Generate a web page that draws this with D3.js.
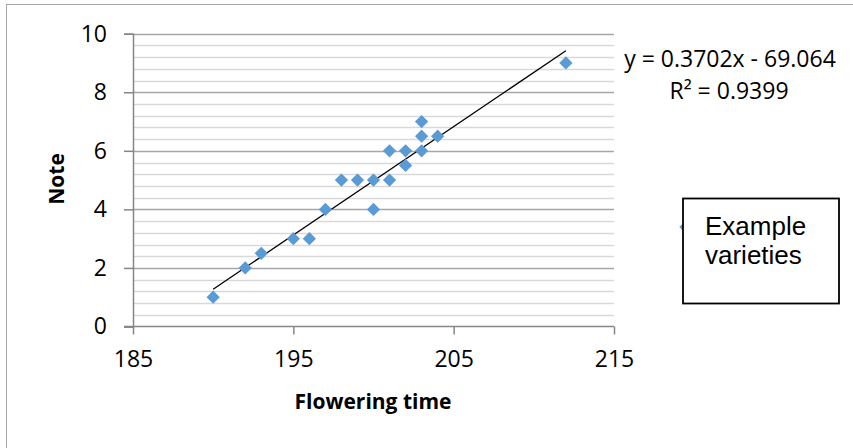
<!DOCTYPE html>
<html>
<head>
<meta charset="utf-8">
<script src="https://cdn.jsdelivr.net/npm/d3@7"></script>
<style>
  body { margin: 0; background: #fff; }
  svg { display: block; }
</style>
</head>
<body>
<svg id="chart" width="853" height="448"></svg>
<script>
// values
var floweringTime = [190, 192, 193, 195, 196, 197, 198, 199, 200, 200, 201, 201, 202, 202, 203, 203, 203, 204, 212];
var note          = [1,   2,   2.5, 3,   3,   4,   5,   5,   5,   4,   6,   5,   6,   5.5, 7,   6.5, 6,   6.5, 9];

var xTicks = [185, 195, 205, 215];
var yTicks = [0, 2, 4, 6, 8, 10];
var yMinorTicks = d3.range(0, 10.01, 0.4);

// trendline as printed on the chart
var slope = 0.3702, intercept = -69.064;
var eqLabel = "y = 0.3702x - 69.064";
var r2Label = "R\u00b2 = 0.9399";
var seriesName = ["Example", "varieties"];

var svg = d3.select("#chart");
var font = "'Open Sans', 'Noto Sans', sans-serif";

var x = d3.scaleLinear().domain([185, 215]).range([133, 614]);
var y = d3.scaleLinear().domain([0, 10]).range([326.5, 33.7]);

// chart border (only top/left are visible in the crop)
svg.append("rect")
  .attr("x", 6.5).attr("y", 4.5)
  .attr("width", 900).attr("height", 500)
  .attr("fill", "none")
  .attr("stroke", "#a6a6a6")
  .attr("stroke-width", 1);

// minor gridlines
svg.append("g")
  .selectAll("line")
  .data(yMinorTicks.filter(function(d) { return Math.abs(d / 2 - Math.round(d / 2)) > 0.01; }))
  .enter().append("line")
  .attr("x1", x(185)).attr("x2", x(215))
  .attr("y1", function(d) { return Math.round(y(d)) + 0.5; })
  .attr("y2", function(d) { return Math.round(y(d)) + 0.5; })
  .attr("stroke", "#d9d9d9")
  .attr("stroke-width", 1.5);

// major gridlines
svg.append("g")
  .selectAll("line")
  .data(yTicks.slice(1))
  .enter().append("line")
  .attr("x1", x(185)).attr("x2", x(215))
  .attr("y1", function(d) { return Math.round(y(d)) + 0.5; })
  .attr("y2", function(d) { return Math.round(y(d)) + 0.5; })
  .attr("stroke", "#a6a6a6")
  .attr("stroke-width", 1.5);

// y axis
var yAxis = svg.append("g")
  .attr("transform", "translate(" + x(185) + ",0)")
  .call(d3.axisLeft(y).tickValues(yTicks).tickSize(9).tickPadding(17).tickFormat(d3.format("d")));

// x axis
var xAxis = svg.append("g")
  .attr("transform", "translate(0," + y(0) + ")")
  .call(d3.axisBottom(x).tickValues(xTicks).tickSize(8).tickPadding(16).tickFormat(d3.format("d")));

[yAxis, xAxis].forEach(function(a) {
  a.select(".domain").attr("stroke", "#868686").attr("stroke-width", 1.5);
  a.selectAll(".tick line").attr("stroke", "#868686").attr("stroke-width", 1.5);
  a.selectAll("text").attr("font-family", font).attr("font-size", 23).attr("fill", "#000");
});
xAxis.select(".domain").attr("d", "M" + (x(185) - 9) + ",0H" + x(215));

// trendline
var xMin = d3.min(floweringTime), xMax = d3.max(floweringTime);
svg.append("line")
  .attr("x1", x(xMin)).attr("y1", y(slope * xMin + intercept))
  .attr("x2", x(xMax)).attr("y2", y(slope * xMax + intercept))
  .attr("stroke", "#000")
  .attr("stroke-width", 1.3);

// points
var diamond = d3.symbol().type(d3.symbolSquare).size(88);
svg.append("g")
  .selectAll("path")
  .data(floweringTime.map(function(d, i) { return [d, note[i]]; }))
  .enter().append("path")
  .attr("d", diamond)
  .attr("transform", function(d) { return "translate(" + x(d[0]) + "," + y(d[1]) + ") rotate(45)"; })
  .attr("fill", "#5b9bd5");

// equation
svg.append("text")
  .attr("x", 730).attr("y", 67)
  .attr("text-anchor", "middle")
  .attr("font-family", font).attr("font-size", 23)
  .text(eqLabel);
svg.append("text")
  .attr("x", 729).attr("y", 99)
  .attr("text-anchor", "middle")
  .attr("font-family", font).attr("font-size", 23)
  .text(r2Label);

// axis titles
svg.append("text")
  .attr("x", 373).attr("y", 409)
  .attr("text-anchor", "middle")
  .attr("font-family", font).attr("font-size", 21).attr("font-weight", "bold")
  .text("Flowering time");
svg.append("text")
  .attr("transform", "translate(64,179) rotate(-90)")
  .attr("text-anchor", "middle")
  .attr("font-family", font).attr("font-size", 21).attr("font-weight", "bold")
  .text("Note");

// legend: marker peeks out behind the box
svg.append("path")
  .attr("d", diamond)
  .attr("transform", "translate(686,227) rotate(45)")
  .attr("fill", "#5b9bd5");
svg.append("rect")
  .attr("x", 683).attr("y", 198.5)
  .attr("width", 156).attr("height", 105)
  .attr("fill", "#fff")
  .attr("stroke", "#000")
  .attr("stroke-width", 1.8);
svg.append("text")
  .attr("x", 705).attr("y", 235)
  .attr("font-family", "'Liberation Sans', Arial, sans-serif").attr("font-size", 26)
  .selectAll("tspan")
  .data(seriesName)
  .enter().append("tspan")
  .attr("x", 705)
  .attr("dy", function(d, i) { return i ? 28.5 : 0; })
  .text(function(d) { return d; });
</script>
</body>
</html>
